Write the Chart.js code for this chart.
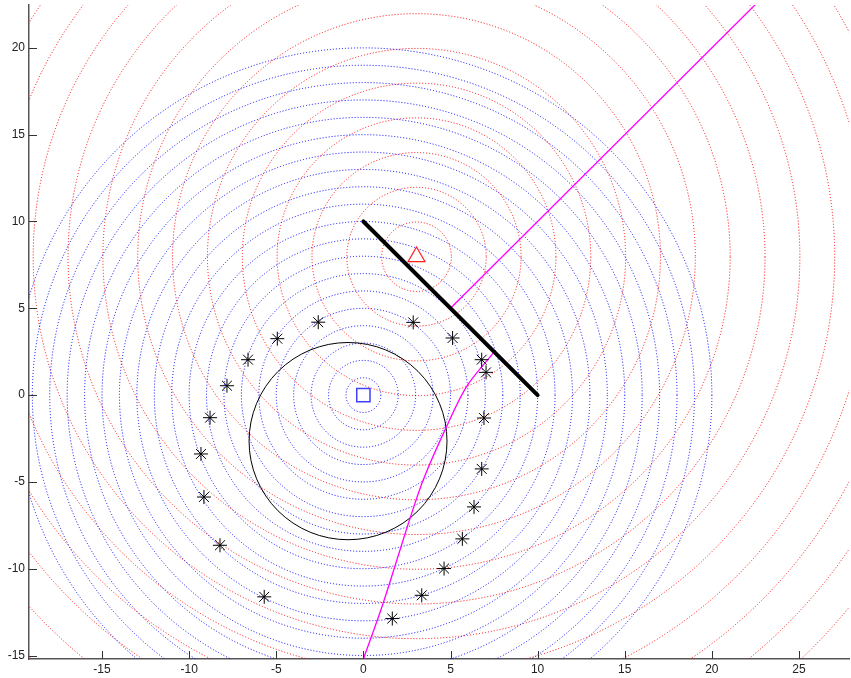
<!DOCTYPE html>
<html>
<head>
<meta charset="utf-8">
<script src="https://cdn.jsdelivr.net/npm/chart.js@4.4.1/dist/chart.umd.min.js"></script>
<style>
  html, body { margin: 0; padding: 0; background: #ffffff; }
  #wrap { width: 851px; height: 678px; position: relative; }
</style>
</head>
<body>
<div id="wrap"><canvas id="c" width="851" height="678"></canvas></div>
<script>
// Axis limits and tick labels
const xRange = [-19.19, 27.87];
const yRange = [-15.2, 22.47];
const xTickValues = [-15, -10, -5, 0, 5, 10, 15, 20, 25];
const yTickValues = [-15, -10, -5, 0, 5, 10, 15, 20];

// Receiver (square) and source (triangle)
const receiver = [{ x: 0, y: 0 }];
const source = [{ x: 3.05, y: 7.97 }];

// Wavefront rings around the receiver (blue) and the source (red)
const blueCenter = [0, 0];
const blueRadii = [1, 2, 3, 4, 5, 6, 7, 8, 9, 10, 11, 12, 13, 14, 15, 16, 17, 18, 19, 20];
const redCenter = [3.05, 7.97];
const redRadii = [2, 4, 6, 8, 10, 12, 14, 16, 18, 20, 22, 24, 26, 28, 30, 32, 34, 36, 38, 40];

// Solid black circle
const ringCenter = [-0.88, -2.65];
const ringRadius = 5.68;

// Wall segment
const wall = [{ x: 0, y: 10 }, { x: 10, y: 0 }];

// Candidate positions (asterisks)
const candX = [-2.59, 2.86, -4.94, 5.12, -6.62, 6.79, -7.83, 7.04, -8.80, 6.92,
               -9.32, 6.79, -9.15, 6.35, -8.23, 5.68, -5.69, 4.63, 3.35, 1.66];
const candY = [4.20, 4.19, 3.25, 3.29, 2.04, 2.04, 0.54, 1.31, -1.30, -1.32,
               -3.39, -4.25, -5.87, -6.44, -8.65, -8.28, -11.62, -9.99, -11.53, -12.87];

// Magenta paths: incoming curve and reflected ray
const pathInX = [0.0, 1.14, 2.67, 3.44, 4.72, 5.93, 7.45];
const pathInY = [-15.2, -11.97, -7.12, -4.87, -1.93, 0.50, 2.42];
const pathOutX = [5.0, 30.0];
const pathOutY = [5.0, 30.0];

const toPts = (xs, ys) => xs.map((x, i) => ({ x: x, y: ys[i] }));

// Dotted rings and the black circle, drawn under the datasets
const ringsPlugin = {
  id: 'rings',
  beforeDatasetsDraw(chart) {
    const { ctx, chartArea, scales } = chart;
    const xs = scales.x, ys = scales.y;
    const ellipse = (cx, cy, r) => {
      const px = xs.getPixelForValue(cx), py = ys.getPixelForValue(cy);
      const rx = Math.abs(xs.getPixelForValue(cx + r) - px);
      const ry = Math.abs(ys.getPixelForValue(cy + r) - py);
      ctx.beginPath();
      ctx.ellipse(px, py, rx, ry, 0, 0, Math.PI * 2);
      ctx.stroke();
    };
    ctx.save();
    ctx.beginPath();
    ctx.rect(chartArea.left, chartArea.top, chartArea.right - chartArea.left, chartArea.bottom - chartArea.top);
    ctx.clip();
    ctx.lineWidth = 1;
    ctx.setLineDash([1, 2]);
    ctx.strokeStyle = '#ff0000';
    redRadii.forEach(r => ellipse(redCenter[0], redCenter[1], r));
    ctx.strokeStyle = '#0000ff';
    blueRadii.forEach(r => ellipse(blueCenter[0], blueCenter[1], r));
    ctx.setLineDash([]);
    ctx.strokeStyle = '#000000';
    ctx.lineWidth = 1;
    ellipse(ringCenter[0], ringCenter[1], ringRadius);
    ctx.restore();
  }
};

// Inward tick marks on the left and bottom axes
const ticksPlugin = {
  id: 'inTicks',
  afterDraw(chart) {
    const { ctx, chartArea, scales } = chart;
    ctx.save();
    ctx.strokeStyle = '#333333';
    ctx.lineWidth = 1;
    xTickValues.forEach(v => {
      const px = Math.round(scales.x.getPixelForValue(v)) + 0.5;
      ctx.beginPath();
      ctx.moveTo(px, chartArea.bottom);
      ctx.lineTo(px, chartArea.bottom - 8);
      ctx.stroke();
    });
    yTickValues.forEach(v => {
      const py = Math.round(scales.y.getPixelForValue(v)) + 0.5;
      ctx.beginPath();
      ctx.moveTo(chartArea.left, py);
      ctx.lineTo(chartArea.left + 8, py);
      ctx.stroke();
    });
    ctx.restore();
  }
};

const tickFont = { family: '"Liberation Sans", Arial, Helvetica, sans-serif', size: 12 };

new Chart(document.getElementById('c'), {
  type: 'scatter',
  data: {
    datasets: [
      {
        data: receiver, pointStyle: 'rect', pointRadius: 9.4,
        borderColor: '#4040ff', backgroundColor: 'rgba(0,0,0,0)', pointBorderWidth: 1.5
      },
      {
        data: source, pointStyle: 'triangle', pointRadius: 9.8,
        borderColor: '#ff2020', backgroundColor: 'rgba(0,0,0,0)', pointBorderWidth: 1.2
      },
      {
        data: toPts(candX, candY), pointStyle: 'star', pointRadius: 7,
        borderColor: '#000000', pointBorderWidth: 1
      },
      {
        type: 'line', data: wall, borderColor: '#000000', borderWidth: 4,
        pointRadius: 0, showLine: true, fill: false, borderCapStyle: 'round'
      },
      {
        type: 'line', data: toPts(pathInX, pathInY), borderColor: '#ff00ff', borderWidth: 1.3,
        pointRadius: 0, showLine: true, fill: false, tension: 0.3
      },
      {
        type: 'line', data: toPts(pathOutX, pathOutY), borderColor: '#ff00ff', borderWidth: 1.3,
        pointRadius: 0, showLine: true, fill: false
      }
    ]
  },
  options: {
    responsive: false,
    animation: false,
    layout: { autoPadding: false, padding: { top: 5, right: 2, left: 0, bottom: 0 } },
    plugins: { legend: { display: false }, tooltip: { enabled: false } },
    scales: {
      x: {
        type: 'linear', min: xRange[0], max: xRange[1],
        afterFit: s => { s.height = 19; s.paddingLeft = 0; s.paddingRight = 0; },
        afterBuildTicks: s => { s.ticks = xTickValues.map(v => ({ value: v })); },
        grid: { display: false, drawTicks: false },
        border: { display: true, color: '#555555', width: 1.5 },
        ticks: { font: tickFont, color: '#222222', padding: 3, maxRotation: 0 }
      },
      y: {
        type: 'linear', min: yRange[0], max: yRange[1],
        afterFit: s => { s.width = 29; s.paddingTop = 0; s.paddingBottom = 0; },
        afterBuildTicks: s => { s.ticks = yTickValues.map(v => ({ value: v })); },
        grid: { display: false, drawTicks: false },
        border: { display: true, color: '#555555', width: 1.5 },
        ticks: { font: tickFont, color: '#222222', padding: 4 }
      }
    }
  },
  plugins: [ringsPlugin, ticksPlugin]
});
</script>
</body>
</html>
